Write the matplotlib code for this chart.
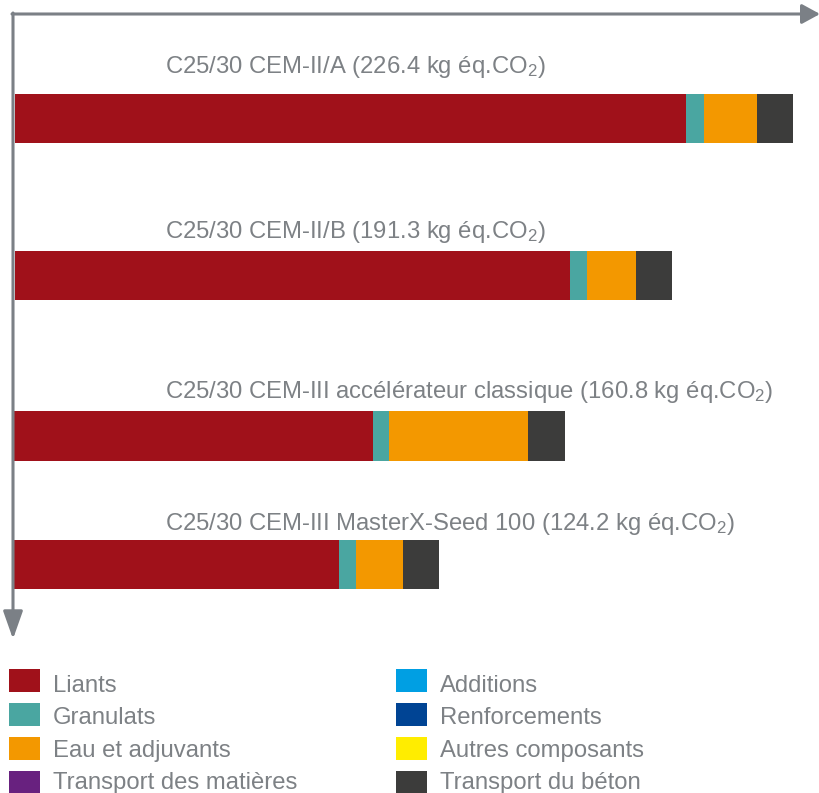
import matplotlib
matplotlib.use('Agg')
import matplotlib.pyplot as plt
from matplotlib.patches import Rectangle

plt.rcParams['font.family'] = ['Liberation Sans', 'DejaVu Sans']
plt.rcParams['mathtext.fontset'] = 'custom'
plt.rcParams['mathtext.rm'] = 'Liberation Sans'
plt.rcParams['mathtext.it'] = 'Liberation Sans:italic'
plt.rcParams['mathtext.bf'] = 'Liberation Sans:bold'

# ---------------- data ----------------
mixes = ['C25/30 CEM-II/A', 'C25/30 CEM-II/B',
         'C25/30 CEM-III accélérateur classique',
         'C25/30 CEM-III MasterX-Seed 100']
totals = [226.4, 191.3, 160.8, 124.2]

categories = ['Liants', 'Granulats', 'Eau et adjuvants', 'Transport des matières',
              'Additions', 'Renforcements', 'Autres composants', 'Transport du béton']
colors = ['#A0111A', '#4AA6A1', '#F39800', '#68217F',
          '#009FE3', '#004494', '#FFED00', '#3C3C3B']

liants = [195.3, 161.5, 105.0, 95.1]
granulats = [5.2, 5.0, 4.7, 4.9]
eau_adjuvants = [15.4, 14.3, 40.6, 13.7]
transport_matieres = [0.0, 0.0, 0.0, 0.0]
additions = [0.0, 0.0, 0.0, 0.0]
renforcements = [0.0, 0.0, 0.0, 0.0]
autres = [0.0, 0.0, 0.0, 0.0]
transport_beton = [10.5, 10.5, 10.5, 10.5]

series = [liants, granulats, eau_adjuvants, transport_matieres,
          additions, renforcements, autres, transport_beton]

# ---------------- layout ----------------
W, H = 820, 793
bar_centres = [118.5, 275.5, 436.0, 564.5]   # pixel rows of bars
bar_height = 49.5
bar_start_px = [15, 15, 12, 12]
label_baselines = [73, 238, 398, 530]
label_x = 165
x0_px = 15
px_per_unit = 3.436
text_col = '#7d8185'
axis_col = '#7b8086'
fs = 17.2

fig = plt.figure(figsize=(W / 100, H / 100), dpi=100)
ax = fig.add_axes([0, 0, 1, 1])
ax.set_xlim(-x0_px / px_per_unit, (W - x0_px) / px_per_unit)
ax.set_ylim(H, 0)
ax.axis('off')

for i in range(len(mixes)):
    left = (bar_start_px[i] - x0_px) / px_per_unit
    for vals, col in zip(series, colors):
        v = vals[i]
        if v > 0:
            ax.barh(bar_centres[i], v, left=left, height=bar_height,
                    color=col, edgecolor='none', zorder=2)
        left += v

ov = fig.add_axes([0, 0, 1, 1], zorder=5)
ov.set_xlim(0, W)
ov.set_ylim(H, 0)
ov.axis('off')
ov.patch.set_alpha(0)

# axes arrows
ov.annotate('', xy=(820, 14), xytext=(12, 14),
            arrowprops=dict(arrowstyle='-|>,head_length=0.55,head_width=0.3',
                            lw=2.2, color=axis_col, mutation_scale=20,
                            shrinkA=0, shrinkB=0))
ov.annotate('', xy=(13, 639), xytext=(13, 13),
            arrowprops=dict(arrowstyle='-|>,head_length=0.85,head_width=0.3',
                            lw=2.2, color=axis_col, mutation_scale=20,
                            shrinkA=0, shrinkB=0))

# bar labels
for i, (m, t) in enumerate(zip(mixes, totals)):
    ov.text(label_x, label_baselines[i],
            f'{m} ({t:.1f} kg éq.CO$_\\mathregular{{2}}$)',
            fontsize=fs, color=text_col, va='baseline', ha='left')

# legend
col_sq_x = [9, 396]
col_tx_x = [53, 440]
for k, (cat, col) in enumerate(zip(categories, colors)):
    c, r = divmod(k, 4)
    ov.add_patch(Rectangle((col_sq_x[c], 669 + 34 * r), 31, 23,
                           facecolor=col, edgecolor='none'))
    ov.text(col_tx_x[c], 692 + 32.5 * r, cat, fontsize=fs, color=text_col,
            va='baseline', ha='left')

fig.savefig('out.png', dpi=100)
